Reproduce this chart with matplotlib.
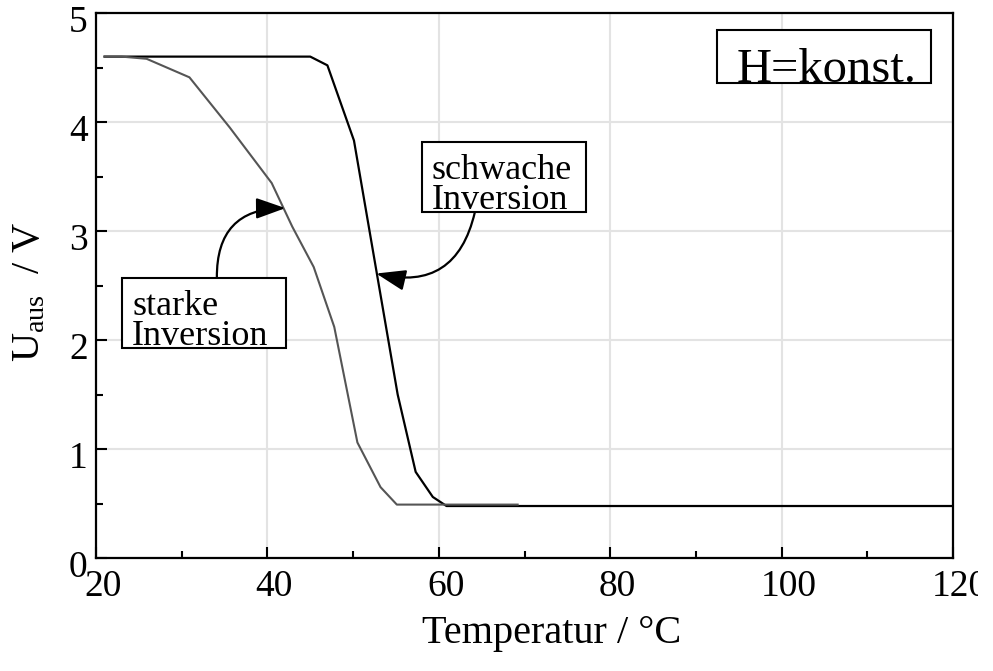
import matplotlib
matplotlib.use("Agg")
import matplotlib.pyplot as plt
from matplotlib.patches import Rectangle
from matplotlib.ticker import MultipleLocator
from matplotlib.transforms import ScaledTranslation, Bbox, TransformedBbox

# weak inversion (black) and strong inversion (grey) output voltage vs temperature
schwach_temp = [21, 45, 47, 50.1, 55.2, 57.3, 59.3, 60.9, 120]
schwach_u = [4.6, 4.6, 4.52, 3.83, 1.50, 0.79, 0.56, 0.477, 0.477]

stark_temp = [21, 23, 25.9, 30.9, 35.6, 40.5, 42.9, 45.4, 47.8, 50.5, 53.2, 55.1, 69.2]
stark_u = [4.6, 4.6, 4.58, 4.41, 3.95, 3.44, 3.04, 2.67, 2.12, 1.06, 0.65, 0.49, 0.49]

x_ticks = [20, 40, 60, 80, 100, 120]
y_ticks = [0, 1, 2, 3, 4, 5]

plt.rcParams["font.family"] = ["Liberation Serif", "DejaVu Serif"]
plt.rcParams["mathtext.fontset"] = "custom"
plt.rcParams["mathtext.rm"] = "Liberation Serif"
plt.rcParams["mathtext.it"] = "Liberation Serif"

fig = plt.figure(figsize=(9.93, 6.71), dpi=100)
ax = fig.add_axes([0.0967, 0.1684, 0.863, 0.8122])

ax.plot(schwach_temp, schwach_u, color="black", lw=1.6, zorder=3)
ax.plot(stark_temp, stark_u, color="#555555", lw=1.5, zorder=3)

ax.set_xlim(20, 120)
ax.set_ylim(0, 5)
ax.set_xticks(x_ticks)
ax.set_yticks(y_ticks)
ax.xaxis.set_minor_locator(MultipleLocator(10))
ax.yaxis.set_minor_locator(MultipleLocator(0.5))
ax.grid(True, which="major", color="#e3e3e3", lw=1.5, zorder=0)
ax.set_axisbelow(True)

ax.tick_params(which="both", direction="in", top=False, right=False,
               width=1.5, labelsize=27)
ax.tick_params(which="major", length=8)
ax.tick_params(which="minor", length=5)
ax.tick_params(axis="x", pad=8)
ax.tick_params(axis="y", pad=6)
for sp in ax.spines.values():
    sp.set_linewidth(1.6)

# tick labels are nudged off their ticks in the original
xshift = ScaledTranslation(7 / 100, 0, fig.dpi_scale_trans)
for lab in ax.get_xticklabels():
    lab.set_transform(lab.get_transform() + xshift)
yshift = ScaledTranslation(0, -6 / 100, fig.dpi_scale_trans)
for lab in ax.get_yticklabels():
    lab.set_transform(lab.get_transform() + yshift)

fig.text(0.556, 0.041, "Temperatur / °C", fontsize=29, ha="center", va="baseline")
fig.text(0.03, 0.565, r"$\mathregular{U_{aus}}$  / V", fontsize=29,
         rotation=90, ha="center", va="center")

# framed labels: box edges sit on the text baseline like in the original
def framed(x0, x1, y0, y1, tx, ty, txt, size):
    ax.add_patch(Rectangle((x0, y0), x1 - x0, y1 - y0, fc="white", ec="black",
                           lw=1.5, zorder=4))
    ax.text(tx, ty, txt, fontsize=size, va="baseline", ha="left",
            linespacing=0.9, zorder=5)

framed(92.5, 117.4, 4.36, 4.84, 94.8, 4.37, "H=konst.", 35)
framed(58.0, 77.2, 3.17, 3.82, 59.2, 3.20, "schwache\nInversion", 26)
framed(23.0, 42.2, 1.93, 2.57, 24.2, 1.95, "starke\nInversion", 26)

arrow = dict(arrowstyle="-|>,head_length=0.9,head_width=0.32", color="black",
             lw=1.6, mutation_scale=20, shrinkA=0, shrinkB=0)
ax.annotate("", xy=(52.7, 2.61), xytext=(64.2, 3.17),
            arrowprops=dict(arrow, connectionstyle="arc3,rad=-0.5"))
ax.annotate("", xy=(42.1, 3.21), xytext=(34.1, 2.57),
            arrowprops=dict(arrow, connectionstyle="arc3,rad=-0.5"))

# the last tick label is cut by the right edge in the original
clip = TransformedBbox(Bbox([[0, 0], [0.985, 1]]), fig.transFigure)
for lab in ax.get_xticklabels():
    lab.set_clip_box(clip)
    lab.set_clip_on(True)

fig.savefig("out.png", dpi=100)
